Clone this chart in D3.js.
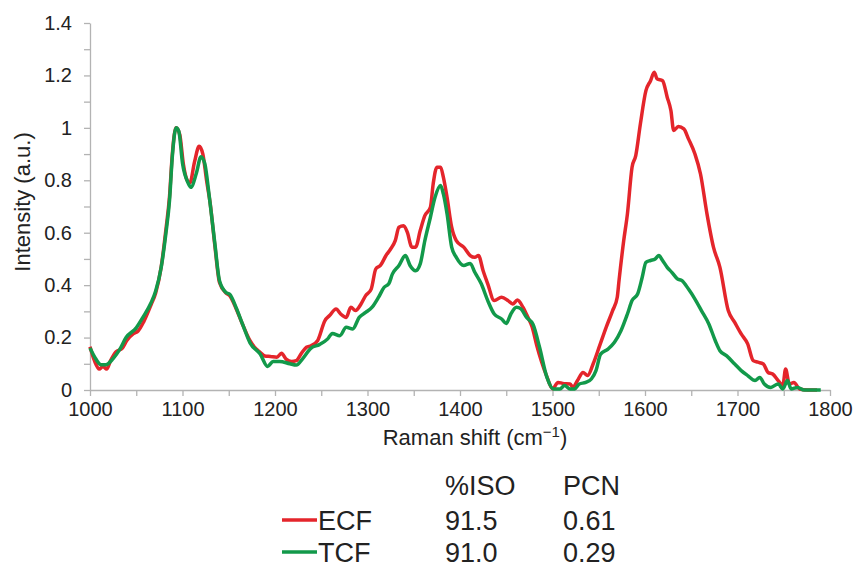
<!DOCTYPE html>
<html>
<head>
<meta charset="utf-8">
<script src="https://cdn.jsdelivr.net/npm/d3@7"></script>
<style>
  body { margin: 0; background: #fff; }
  text { font-family: "Liberation Sans", Arial, sans-serif; fill: #222; }
</style>
</head>
<body>
<script>
// Raman spectra
var ecfShift = [1000,1005,1010,1014,1018,1022,1028,1035,1040,1047,1052,1058,1066,1071,1077,1082,1086,1089,1093,1097,
  1101,1105,1108,1113,1118,1122,1126,1130,1135,1140,1147,1151,1158,1165,1173,1180,1184,1189,1195,1202,
  1207,1212,1218,1223,1228,1234,1239,1246,1254,1259,1266,1271,1277,1282,1287,1293,1298,1304,1309,1314,
  1320,1325,1330,1334,1339,1343,1348,1352,1357,1362,1368,1371,1375,1379,1382,1386,1391,1396,1404,1411,
  1416,1420,1425,1430,1437,1445,1452,1457,1462,1468,1473,1478,1483,1488,1494,1500,1506,1511,1519,1522,
  1527,1533,1538,1544,1551,1558,1565,1570,1572,1577,1581,1586,1590,1595,1601,1606,1610,1613,1619,1624,
  1628,1631,1636,1642,1647,1654,1660,1667,1674,1681,1690,1697,1704,1711,1717,1722,1728,1733,1738,1744,
  1749,1752,1756,1761,1767,1776,1786];
var ecfIntensity = [0.165,0.11,0.08,0.09,0.08,0.11,0.145,0.16,0.19,0.215,0.225,0.26,0.325,0.37,0.47,0.61,0.74,0.9,1.0,0.975,
  0.86,0.8,0.79,0.87,0.93,0.9,0.8,0.71,0.55,0.41,0.37,0.36,0.31,0.25,0.188,0.155,0.144,0.13,0.128,0.125,
  0.14,0.118,0.109,0.112,0.137,0.163,0.169,0.188,0.265,0.284,0.309,0.29,0.277,0.316,0.303,0.328,0.36,0.385,0.462,0.475,
  0.513,0.538,0.57,0.621,0.627,0.602,0.545,0.545,0.608,0.665,0.697,0.786,0.85,0.85,0.812,0.735,0.621,0.57,0.545,0.513,
  0.506,0.513,0.455,0.405,0.341,0.354,0.341,0.328,0.343,0.316,0.28,0.24,0.17,0.11,0.05,0.005,0.029,0.025,0.023,0.01,
  0.036,0.067,0.055,0.1,0.169,0.239,0.303,0.354,0.42,0.57,0.672,0.85,0.894,1.015,1.142,1.18,1.212,1.187,1.18,1.117,
  1.066,0.99,1.005,0.996,0.958,0.9,0.824,0.672,0.545,0.468,0.303,0.258,0.214,0.176,0.112,0.106,0.099,0.067,0.061,0.036,
  0.017,0.08,0.023,0.029,0.004,0.0,0.0];

var tcfShift = [1000,1006,1012,1017,1025,1032,1039,1050,1057,1066,1071,1077,1082,1086,1089,1093,1096,1100,1106,1109,
  1115,1120,1124,1129,1135,1140,1147,1151,1158,1165,1173,1184,1192,1198,1205,1216,1223,1230,1239,1248,
  1257,1262,1270,1277,1284,1291,1298,1305,1312,1318,1323,1327,1334,1341,1346,1352,1357,1362,1368,1373,
  1379,1382,1386,1391,1396,1404,1411,1416,1423,1430,1437,1445,1450,1455,1461,1466,1472,1479,1486,1494,
  1501,1508,1513,1519,1524,1529,1536,1542,1547,1552,1560,1567,1574,1581,1586,1592,1597,1601,1606,1611,
  1615,1619,1624,1629,1635,1640,1647,1654,1661,1669,1676,1681,1688,1697,1704,1711,1719,1724,1729,1736,
  1744,1749,1754,1758,1765,1772,1790];
var tcfIntensity = [0.16,0.12,0.096,0.096,0.12,0.154,0.2,0.237,0.276,0.333,0.378,0.468,0.596,0.724,0.89,1.0,0.987,0.865,0.79,0.773,
  0.827,0.89,0.865,0.737,0.558,0.417,0.372,0.365,0.314,0.25,0.18,0.137,0.09,0.109,0.109,0.1,0.095,0.12,0.16,0.173,
  0.195,0.216,0.207,0.239,0.233,0.277,0.296,0.316,0.354,0.392,0.405,0.443,0.475,0.513,0.475,0.455,0.481,0.57,0.659,0.735,
  0.78,0.748,0.672,0.545,0.506,0.475,0.483,0.449,0.405,0.341,0.29,0.271,0.254,0.29,0.316,0.309,0.277,0.25,0.163,0.048,
  0.004,0.004,0.017,0.004,0.004,0.023,0.029,0.042,0.074,0.137,0.156,0.182,0.226,0.29,0.341,0.366,0.43,0.487,0.494,0.5,
  0.513,0.494,0.468,0.449,0.424,0.417,0.385,0.347,0.303,0.252,0.188,0.15,0.131,0.099,0.074,0.055,0.036,0.048,0.023,0.01,
  0.023,0.004,0.036,0.004,0.01,0,0];

var xTicks = [1000,1100,1200,1300,1400,1500,1600,1700,1800];
var yTicks = [0,0.2,0.4,0.6,0.8,1,1.2,1.4];

var seriesNames = ["ECF","TCF"];
var seriesColors = ["#e4252b","#12994a"];
var isoValues = ["91.5","91.0"];
var pcnValues = ["0.61","0.29"];

var width = 856, height = 568;
var svg = d3.select("body").append("svg")
  .attr("width", width)
  .attr("height", height);

var x = d3.scaleLinear().domain([1000, 1800]).range([90, 830]);
var y = d3.scaleLinear().domain([0, 1.4]).range([390, 23]);

var axisColor = "#b3b3b3";

// minor ticks first (no labels)
svg.append("g")
  .attr("transform", "translate(0,390)")
  .call(d3.axisBottom(x).tickValues(d3.range(1050, 1800, 100)).tickSize(6).tickFormat(""))
  .call(g => g.select(".domain").remove());
svg.append("g")
  .attr("transform", "translate(90,0)")
  .call(d3.axisLeft(y).tickValues([0.1,0.3,0.5,0.7,0.9,1.1,1.3]).tickSize(6).tickFormat(""))
  .call(g => g.select(".domain").remove());

var xAxis = svg.append("g")
  .attr("transform", "translate(0,390)")
  .call(d3.axisBottom(x).tickValues(xTicks).tickSize(6).tickSizeOuter(0).tickPadding(6).tickFormat(d3.format("d")));
var yAxis = svg.append("g")
  .attr("transform", "translate(90,0)")
  .call(d3.axisLeft(y).tickValues(yTicks).tickSize(6).tickSizeOuter(0).tickPadding(12)
    .tickFormat(function(d) { return +d.toFixed(1); }));

svg.selectAll(".tick line").attr("stroke", axisColor).attr("stroke-width", 1.3);
svg.selectAll(".domain").attr("stroke", axisColor).attr("stroke-width", 1.3);
svg.selectAll(".tick text")
  .style("font-family", "'Liberation Sans', Arial, sans-serif")
  .style("font-size", "20px")
  .attr("fill", "#222");

// axis titles
svg.append("text")
  .attr("transform", "translate(22,202) rotate(-90)")
  .attr("text-anchor", "middle")
  .attr("dy", "0.35em")
  .style("font-size", "22px")
  .text("Intensity (a.u.)");

var xt = svg.append("text")
  .attr("x", 475)
  .attr("y", 445)
  .attr("text-anchor", "middle")
  .style("font-size", "22px");
xt.append("tspan").text("Raman shift (cm");
xt.append("tspan").attr("dy", -8).style("font-size", "15px").text("\u22121");
xt.append("tspan").attr("dy", 8).text(")");

// lines
var line = d3.line()
  .x(function(d) { return x(d[0]); })
  .y(function(d) { return y(d[1]); })
  .curve(d3.curveMonotoneX);

var ecf = d3.zip(ecfShift, ecfIntensity);
var tcf = d3.zip(tcfShift, tcfIntensity);

[ecf, tcf].forEach(function(data, i) {
  svg.append("path")
    .datum(data)
    .attr("fill", "none")
    .attr("stroke", seriesColors[i])
    .attr("stroke-width", 3.5)
    .attr("stroke-linejoin", "round")
    .attr("d", line);
});

// legend table
var legendFont = "27px";
svg.append("text").attr("x", 445).attr("y", 495).style("font-size", legendFont).text("%ISO");
svg.append("text").attr("x", 563).attr("y", 495).style("font-size", legendFont).text("PCN");

seriesNames.forEach(function(name, i) {
  var base = 530 + i * 32;
  svg.append("line")
    .attr("x1", 282).attr("x2", 317)
    .attr("y1", base - 10).attr("y2", base - 10)
    .attr("stroke", seriesColors[i])
    .attr("stroke-width", 3.5);
  svg.append("text").attr("x", 318).attr("y", base).style("font-size", legendFont).text(name);
  svg.append("text").attr("x", 445).attr("y", base).style("font-size", legendFont).text(isoValues[i]);
  svg.append("text").attr("x", 563).attr("y", base).style("font-size", legendFont).text(pcnValues[i]);
});
</script>
</body>
</html>
